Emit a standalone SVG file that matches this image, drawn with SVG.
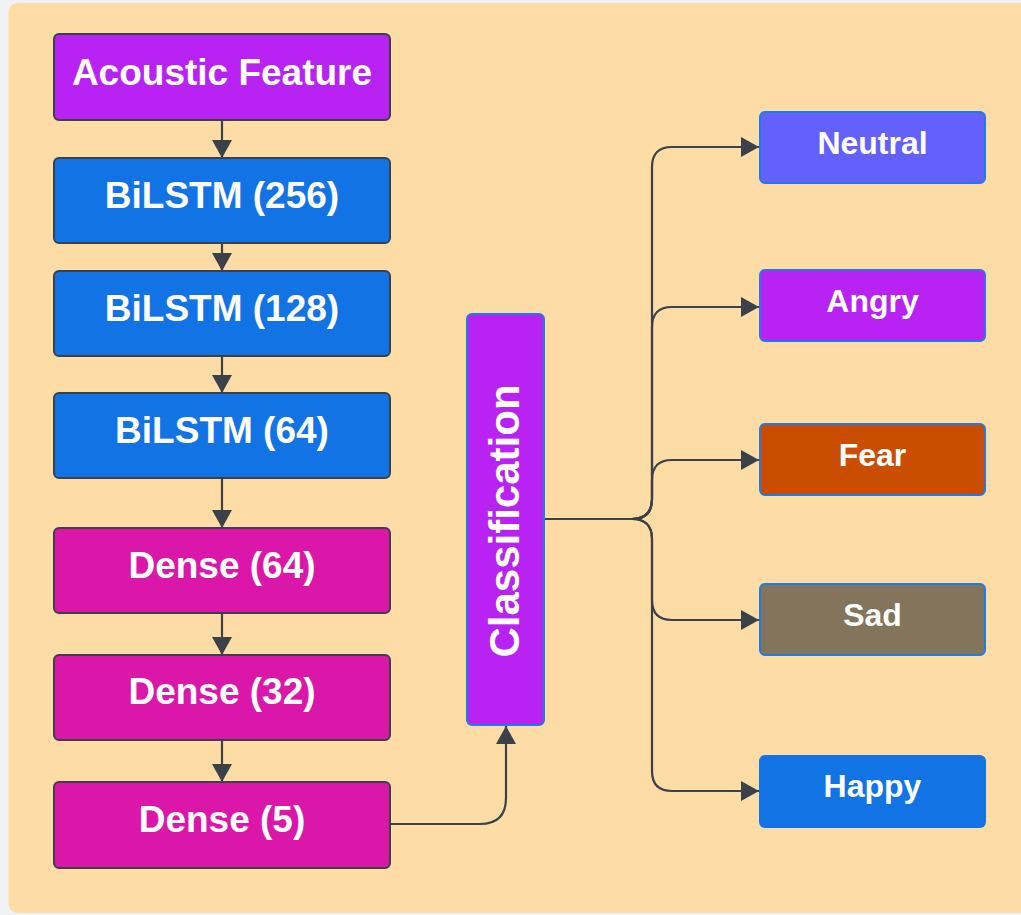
<svg xmlns="http://www.w3.org/2000/svg" width="1021" height="915" viewBox="0 0 1021 915">
<defs>
<style>
.l{stroke:#3a414b;stroke-width:2}
.r{stroke:#1f7ce4;stroke-width:2}
.t{font-family:"Liberation Sans",Arial,sans-serif;font-weight:bold;fill:#ffffff;text-anchor:middle}
.tl{font-size:37px}
.tr{font-size:32px}
.c{fill:none;stroke:#3a414b;stroke-width:2.2}
</style>
<marker id="ah" viewBox="0 0 18 20" refX="18" refY="10" markerWidth="18" markerHeight="20" markerUnits="userSpaceOnUse" orient="auto">
<path d="M0,0 L18,10 L0,20 Z" fill="#3a414b"/>
</marker>
</defs>
<rect x="0" y="0" width="1021" height="915" fill="#f0f2f5"/>
<rect x="8.5" y="3" width="1030" height="910" rx="9" fill="#fedca5"/>

<g id="connectors">
<path class="c" d="M222,120 V158" marker-end="url(#ah)"/>
<path class="c" d="M222,243 V271" marker-end="url(#ah)"/>
<path class="c" d="M222,356 V393" marker-end="url(#ah)"/>
<path class="c" d="M222,478 V528" marker-end="url(#ah)"/>
<path class="c" d="M222,613 V655" marker-end="url(#ah)"/>
<path class="c" d="M222,740 V782" marker-end="url(#ah)"/>
<path class="c" d="M390,824 H480 Q506,824 506,798 V726" marker-end="url(#ah)"/>
<path class="c" d="M544,519 H632 Q652,519 652,499 V167 Q652,147 672,147 H759" marker-end="url(#ah)"/>
<path class="c" d="M544,519 H632 Q652,519 652,499 V327 Q652,307 672,307 H759" marker-end="url(#ah)"/>
<path class="c" d="M544,519 H632 Q652,519 652,499 V480 Q652,460 672,460 H759" marker-end="url(#ah)"/>
<path class="c" d="M544,519 H632 Q652,519 652,539 V600 Q652,620 672,620 H759" marker-end="url(#ah)"/>
<path class="c" d="M544,519 H632 Q652,519 652,539 V771 Q652,791 672,791 H759" marker-end="url(#ah)"/>
</g>

<g id="acoustic-feature">
<rect class="l" x="54" y="34" width="336" height="86" rx="5" fill="#b822f2"/>
<text class="t tl" x="222" y="85">Acoustic Feature</text>
</g>
<g id="bilstm-256">
<rect class="l" x="54" y="158" width="336" height="85" rx="5" fill="#1273e4"/>
<text class="t tl" x="222" y="208">BiLSTM (256)</text>
</g>
<g id="bilstm-128">
<rect class="l" x="54" y="271" width="336" height="85" rx="5" fill="#1273e4"/>
<text class="t tl" x="222" y="321">BiLSTM (128)</text>
</g>
<g id="bilstm-64">
<rect class="l" x="54" y="393" width="336" height="85" rx="5" fill="#1273e4"/>
<text class="t tl" x="222" y="443">BiLSTM (64)</text>
</g>
<g id="dense-64">
<rect class="l" x="54" y="528" width="336" height="85" rx="5" fill="#da17a8"/>
<text class="t tl" x="222" y="578">Dense (64)</text>
</g>
<g id="dense-32">
<rect class="l" x="54" y="655" width="336" height="85" rx="5" fill="#da17a8"/>
<text class="t tl" x="222" y="704">Dense (32)</text>
</g>
<g id="dense-5">
<rect class="l" x="54" y="782" width="336" height="86" rx="5" fill="#da17a8"/>
<text class="t tl" x="222" y="832">Dense (5)</text>
</g>

<g id="classification">
<rect class="r" x="467" y="314" width="77" height="411" rx="5" fill="#b822f2"/>
<text class="t" font-size="42" transform="translate(519,521) rotate(-90)" x="0" y="0">Classification</text>
</g>

<g id="neutral">
<rect class="r" x="760" y="112" width="225" height="71" rx="5" fill="#6360fe"/>
<text class="t tr" x="872.5" y="154">Neutral</text>
</g>
<g id="angry">
<rect class="r" x="760" y="270" width="225" height="71" rx="5" fill="#b822f2"/>
<text class="t tr" x="872.5" y="312">Angry</text>
</g>
<g id="fear">
<rect class="r" x="760" y="424" width="225" height="71" rx="5" fill="#cb4d00"/>
<text class="t tr" x="872.5" y="466">Fear</text>
</g>
<g id="sad">
<rect class="r" x="760" y="584" width="225" height="71" rx="5" fill="#82755c"/>
<text class="t tr" x="872.5" y="626">Sad</text>
</g>
<g id="happy">
<rect x="759" y="755" width="227" height="73" rx="6" fill="#1273e4"/>
<text class="t tr" x="872.5" y="797">Happy</text>
</g>
</svg>
